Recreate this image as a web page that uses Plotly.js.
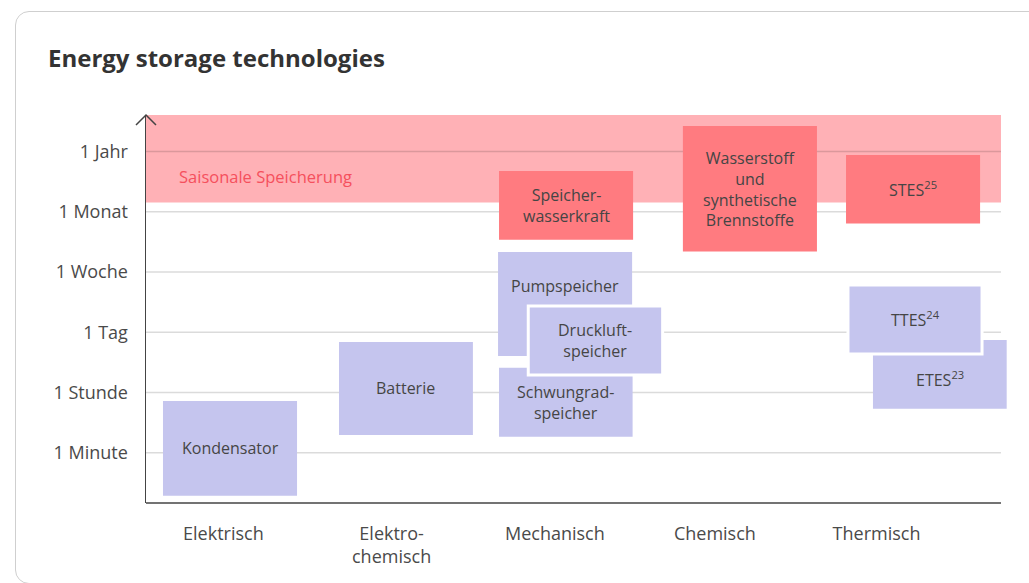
<!DOCTYPE html>
<html>
<head>
<meta charset="utf-8">
<script src="https://cdn.plot.ly/plotly-3.0.1.min.js"></script>
<style>
  html, body { margin:0; padding:0; background:#ffffff; }
  #card { position:absolute; left:15px; top:11px; width:1100px; height:573px;
          border:1px solid #cfcfcf; border-radius:14px; box-sizing:border-box; background:#fff; }
  #chart { position:absolute; left:0; top:0; width:1029px; height:583px; }
</style>
</head>
<body>
<div id="card"></div>
<div id="chart"></div>
<script>
// ---- Data ----
const categories = ['Elektrisch', 'Elektro-<br>chemisch', 'Mechanisch', 'Chemisch', 'Thermisch'];
const categoryPos = [0, 1.03, 2.03, 3.01, 4.0];

const durationLevels = ['1 Minute', '1 Stunde', '1 Tag', '1 Woche', '1 Monat', '1 Jahr'];
const durationPos = [0, 1, 2, 3, 4, 5];

const seasonalBandLabel = 'Saisonale Speicherung';
const seasonalBand = [4.153, 5.61];

const techNames  = ['Kondensator', 'Batterie', 'Speicherwasserkraft', 'Wasserstoff', 'Pumpspeicher',
                    'Schwungradspeicher', 'Druckluftspeicher', 'STES', 'ETES', 'TTES'];
const techLabels = ['Kondensator', 'Batterie', 'Speicher-<br>wasserkraft',
                    'Wasserstoff<br>und<br>synthetische<br>Brennstoffe', 'Pumpspeicher',
                    'Schwungrad-<br>speicher', 'Druckluft-<br>speicher',
                    'STES<sup>25</sup>', 'ETES<sup>23</sup>', 'TTES<sup>24</sup>'];
const techSeasonal = [false, false, true, true, false, false, false, true, false, false];
const techXStart = [-0.370, 0.708, 1.688, 2.814, 1.682, 1.688, 1.867, 3.813, 3.978, 3.825];
const techXEnd   = [ 0.451, 1.528, 2.509, 3.635, 2.503, 2.506, 2.690, 4.634, 4.797, 4.646];
const techYMin   = [-0.714, 0.294, 3.538, 3.339, 1.606, 0.266, 1.291, 3.804, 0.731, 1.640];
const techYMax   = [ 0.859, 1.839, 4.679, 5.427, 3.334, 1.412, 2.437, 4.945, 1.872, 2.786];

// ---- Layout config ----
const xRange = [-0.474, 4.805];
const xPlotEnd = 4.762;
const yRange = [-0.836, 5.608];
const outlined = new Set(['Druckluftspeicher', 'TTES']);
const labelY = { 'Pumpspeicher': 2.77, 'ETES': 1.22 };

const colShort = '#c5c5ee';
const colSeasonal = '#ff7b80';
const colBand = '#ffb1b6';
const textCol = '#454545';
const font = 'Open Sans, sans-serif';

const shapes = [];
// seasonal band
shapes.push({ type:'rect', xref:'x', yref:'y', x0:xRange[0], x1:xPlotEnd,
  y0:seasonalBand[0], y1:seasonalBand[1], fillcolor:colBand, line:{width:0}, layer:'below' });
// gridlines
durationPos.forEach(v => shapes.push({ type:'line', xref:'x', yref:'y', x0:xRange[0], x1:xPlotEnd,
  y0:v, y1:v, line:{color:'rgba(0,0,0,0.14)', width:1.5}, layer:'below' }));
// boxes
techNames.forEach((n, i) => shapes.push({ type:'rect', xref:'x', yref:'y',
  x0:techXStart[i], x1:techXEnd[i], y0:techYMin[i], y1:techYMax[i],
  fillcolor: techSeasonal[i] ? colSeasonal : colShort,
  line: outlined.has(n) ? {color:'#ffffff', width:3} : {width:0}, layer:'above' }));
// x axis line
shapes.push({ type:'line', xref:'paper', yref:'paper', x0:0,
  x1:(xPlotEnd - xRange[0]) / (xRange[1] - xRange[0]), y0:0, y1:0,
  line:{color:'#444', width:1.5} });
// arrow head on y axis
shapes.push({ type:'path', xref:'paper', yref:'paper', xanchor:0, yanchor:1,
  xsizemode:'pixel', ysizemode:'pixel', path:'M-10,-10L0,0L10,-10',
  line:{color:'#444', width:1.5} });

const annotations = techNames.map((n, i) => ({
  x:(techXStart[i] + techXEnd[i]) / 2,
  y: labelY[n] !== undefined ? labelY[n] : (techYMin[i] + techYMax[i]) / 2,
  xref:'x', yref:'y', text:techLabels[i], showarrow:false,
  font:{family:font, size:16, color:textCol}, align:'center'
}));
annotations.push({ x:-0.284, y:4.58, xref:'x', yref:'y',
  xanchor:'left', text:seasonalBandLabel, showarrow:false,
  font:{family:font, size:16.5, color:'#f5505d'} });

const layout = {
  width:1029, height:583,
  margin:{l:146, r:21, t:115, b:80},
  paper_bgcolor:'rgba(0,0,0,0)', plot_bgcolor:'rgba(0,0,0,0)',
  showlegend:false,
  title:{ text:'Energy storage technologies', x:48/1029, xref:'container', xanchor:'left',
          y:1 - 59/583, yref:'container', yanchor:'middle',
          font:{family:font, size:24, color:'#333', weight:700} },
  xaxis:{ range:xRange, tickvals:categoryPos, ticktext:categories, showgrid:false,
          zeroline:false, showline:false, ticks:'', ticklabelstandoff:18,
          tickfont:{family:font, size:18, color:'#4a4a4a'}, fixedrange:true },
  yaxis:{ range:yRange, tickvals:durationPos, ticktext:durationLevels, showgrid:false,
          zeroline:false, showline:true, linecolor:'#444', linewidth:1.5, ticks:'',
          ticklabelstandoff:13, tickfont:{family:font, size:18, color:'#4a4a4a'}, fixedrange:true },
  shapes:shapes, annotations:annotations
};

Plotly.newPlot('chart', [{ type:'scatter', x:[], y:[], hoverinfo:'skip' }], layout,
  { displayModeBar:false, staticPlot:true });
</script>
</body>
</html>
